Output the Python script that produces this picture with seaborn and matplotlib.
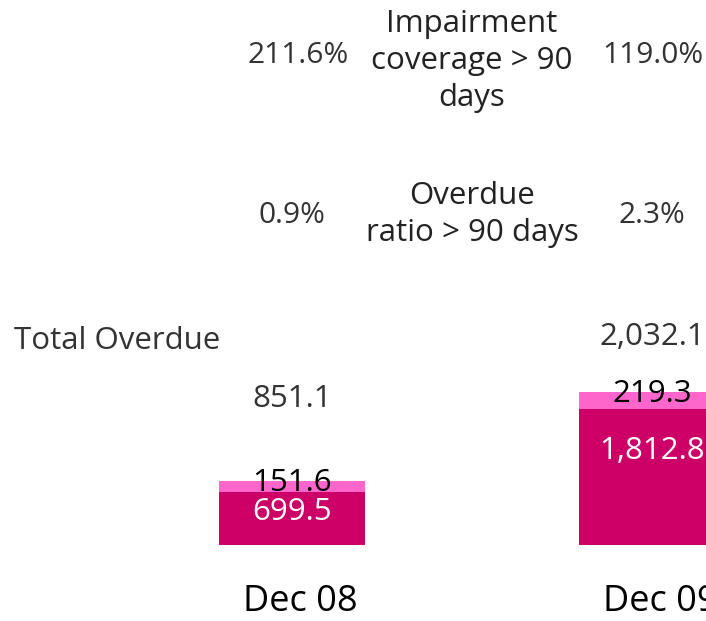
import matplotlib
matplotlib.use("Agg")
import matplotlib.pyplot as plt
import seaborn as sns
import pandas as pd

periods = ["Dec 08", "Dec 09"]
over90 = [699.5, 1812.8]
upto90 = [151.6, 219.3]
totals = [851.1, 2032.1]
overdue_ratio = ["0.9%", "2.3%"]
impairment_cov = ["211.6%", "119.0%"]

sns.set_theme(style="white")
plt.rcParams['font.family'] = ['Open Sans', 'DejaVu Sans']

df = pd.DataFrame({"period": periods, "over90": over90, "upto90": upto90, "total": totals})

fig = plt.figure(figsize=(7.06, 6.21), dpi=100)
ax = fig.add_axes([0, 0, 1, 1])

W = 0.4056
sns.barplot(data=df, x="period", y="total", color="#FF66CC", saturation=1, width=W, ax=ax,
            order=periods, linewidth=0, edgecolor="none")
sns.barplot(data=df, x="period", y="over90", color="#CC0066", saturation=1, width=W, ax=ax,
            order=periods, linewidth=0, edgecolor="none")

ax.set_xlim(-0.811, 1.15)
ax.set_ylim(-1009, 7238)
ax.axis("off")

FS = 22.5
dark = "#333333"
# totals labels
tot_y = [1939, 2762]
for i, t in enumerate(totals):
    ax.text(i, tot_y[i], f"{t:,.1f}", ha="center", va="center", fontsize=FS, color=dark)
# upper segment labels
for i, (u, t) in enumerate(zip(upto90, totals)):
    ax.text(i, t - 30, f"{u:,.1f}", ha="center", va="center", fontsize=FS, color="black")
# lower segment labels
low_y = [438, 1248]
for i, v in enumerate(over90):
    ax.text(i, low_y[i], f"{v:,.1f}", ha="center", va="center", fontsize=FS, color="white")
# category labels
for i, p in enumerate(periods):
    ax.text(i + 0.022, -760, p, ha="center", va="center", fontsize=26, color="black")

ax.text(-0.486, 2709, "Total Overdue", ha="center", va="center", fontsize=FS, color=dark)

PFS = 21.5
for i, r in enumerate(overdue_ratio):
    ax.text(i, 4382, r, ha="center", va="center", fontsize=PFS, color=dark)
ax.text(0.5, 4389, "Overdue\nratio > 90 days", ha="center", va="center", fontsize=FS,
        color="#222222", linespacing=1.3)

imp_dx = [0.017, 0.003]
for i, r in enumerate(impairment_cov):
    ax.text(i + imp_dx[i], 6507, r, ha="center", va="center", fontsize=PFS, color=dark)
ax.text(0.5, 6428, "Impairment\ncoverage > 90\ndays", ha="center", va="center", fontsize=FS,
        color="#222222", linespacing=1.3)

fig.savefig("out.png", dpi=100)
